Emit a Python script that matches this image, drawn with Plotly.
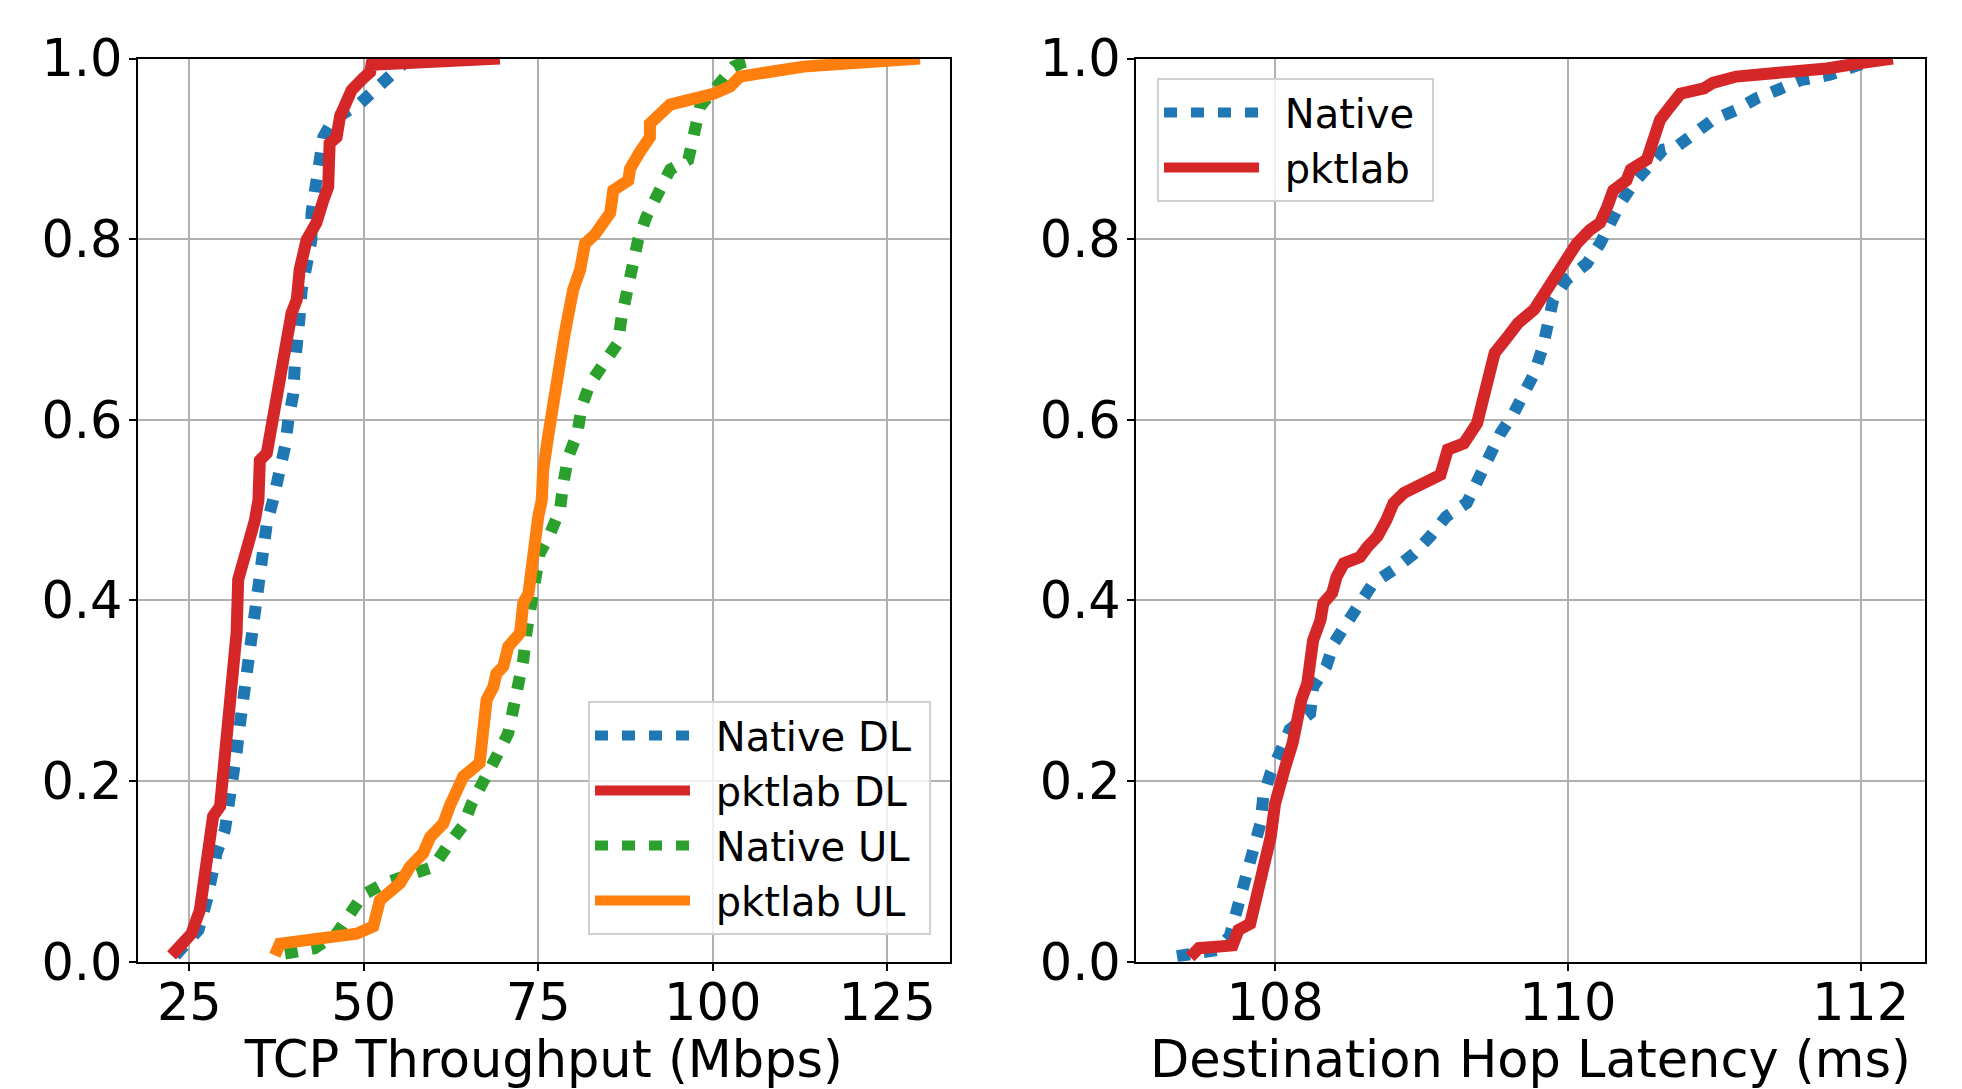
import plotly.graph_objects as go

# ---------------- data ----------------
# Left panel: TCP throughput CDFs (Mbps vs cumulative fraction)
native_dl_x = [23.0, 26.3, 27.5, 28.0, 28.9, 30.1, 30.8, 31.5, 31.8, 32.2, 32.7, 33.2, 33.7, 34.1,
               34.5, 34.9, 35.35, 36.1, 37.0, 37.25, 38.2, 38.7, 39.2, 39.9, 40.1, 40.6, 40.8, 41.1,
               41.8, 42.5, 42.5, 43.2, 43.7, 44.2, 45.6, 49.4, 52.1, 54.7, 56.5]
native_dl_y = [0.007, 0.035, 0.068, 0.094, 0.120, 0.146, 0.175, 0.205, 0.234, 0.260, 0.290, 0.319,
               0.349, 0.375, 0.400, 0.432, 0.459, 0.485, 0.511, 0.519, 0.544, 0.570, 0.600, 0.629,
               0.659, 0.688, 0.714, 0.744, 0.769, 0.799, 0.829, 0.858, 0.886, 0.913, 0.932, 0.950,
               0.969, 0.985, 1.0]

pktlab_dl_x = [22.45, 25.3, 26.5, 27.2, 27.5, 28.4, 29.4, 29.85, 30.1, 30.56, 31.05, 31.77, 32.0,
               32.7, 33.4, 34.4, 34.9, 35.1, 36.1, 37.0, 37.7, 38.4, 39.2, 39.65, 40.4, 40.8, 41.8,
               43.2, 44.2, 44.9, 45.1, 46.1, 46.6, 47.5, 48.25, 49.9, 50.9, 51.1, 69.5]
pktlab_dl_y = [0.007, 0.031, 0.057, 0.094, 0.131, 0.161, 0.172, 0.209, 0.242, 0.275, 0.293, 0.364,
               0.423, 0.441, 0.467, 0.489, 0.511, 0.555, 0.563, 0.603, 0.633, 0.666, 0.699, 0.718,
               0.733, 0.766, 0.799, 0.818, 0.843, 0.858, 0.906, 0.913, 0.936, 0.950, 0.965, 0.978,
               0.985, 0.993, 1.0]

native_ul_x = [38.7, 43.0, 46.1, 48.0, 49.9, 53.0, 56.6, 59.95, 61.9, 64.25, 65.45, 67.4, 69.0,
               70.7, 71.4, 72.4, 72.85, 73.3, 74.05, 74.8, 75.2, 76.7, 78.1, 78.6, 79.3, 80.6, 81.2,
               82.4, 84.5, 86.4, 86.95, 87.7, 88.6, 89.3, 90.5, 92.2, 93.9, 96.5, 97.5, 98.2, 100.6,
               103.0, 104.4, 106.3]
native_ul_y = [0.009, 0.015, 0.031, 0.054, 0.074, 0.087, 0.096, 0.105, 0.127, 0.151, 0.175, 0.201,
               0.227, 0.253, 0.279, 0.306, 0.334, 0.364, 0.393, 0.423, 0.452, 0.474, 0.500, 0.530,
               0.559, 0.585, 0.614, 0.640, 0.663, 0.685, 0.714, 0.744, 0.769, 0.799, 0.825, 0.851,
               0.877, 0.888, 0.917, 0.947, 0.969, 0.991, 0.996, 1.0]

pktlab_ul_x = [37.26, 37.97, 48.97, 51.35, 52.3, 53.3, 55.2, 56.6, 58.5, 59.5, 61.4, 62.3, 63.3,
               64.25, 66.6, 66.9, 67.6, 68.55, 69.0, 70.0, 70.7, 72.4, 72.85, 73.6, 74.05, 74.3,
               75.0, 75.5, 75.7, 76.4, 77.4, 78.1, 78.8, 80.0, 81.0, 81.7, 83.1, 85.3, 85.75, 87.9,
               88.15, 89.6, 91.0, 91.0, 92.45, 93.9, 100.1, 102.5, 103.9, 113.0, 129.7]
pktlab_ul_y = [0.007, 0.020, 0.031, 0.039, 0.068, 0.076, 0.087, 0.105, 0.120, 0.138, 0.153, 0.172,
               0.186, 0.205, 0.220, 0.253, 0.290, 0.304, 0.319, 0.327, 0.349, 0.364, 0.397, 0.408,
               0.437, 0.474, 0.493, 0.511, 0.544, 0.581, 0.633, 0.674, 0.696, 0.744, 0.766, 0.795,
               0.805, 0.829, 0.854, 0.865, 0.878, 0.897, 0.913, 0.928, 0.941, 0.949, 0.961, 0.969,
               0.980, 0.991, 1.0]

# Right panel: destination hop latency CDFs (ms vs cumulative fraction)
native_lat_x = [107.33, 107.60, 107.69, 107.72, 107.76, 107.81, 107.85, 107.90, 107.92, 107.97,
                108.04, 108.10, 108.24, 108.26, 108.35, 108.40, 108.49, 108.58, 108.67, 108.81,
                108.95, 109.06, 109.17, 109.31, 109.38, 109.45, 109.54, 109.63, 109.70, 109.77,
                109.83, 109.87, 109.90, 109.99, 110.13, 110.22, 110.29, 110.36, 110.45, 110.54,
                110.65, 110.74, 110.86, 110.99, 111.15, 111.29, 111.43, 111.59, 111.79, 111.95,
                112.04, 112.1]
native_lat_y = [0.006, 0.013, 0.028, 0.046, 0.072, 0.101, 0.127, 0.153, 0.183, 0.209, 0.234, 0.257,
                0.275, 0.304, 0.327, 0.352, 0.375, 0.397, 0.419, 0.434, 0.452, 0.471, 0.493, 0.508,
                0.533, 0.559, 0.585, 0.607, 0.629, 0.651, 0.681, 0.707, 0.733, 0.755, 0.773, 0.795,
                0.818, 0.840, 0.862, 0.880, 0.899, 0.902, 0.917, 0.932, 0.943, 0.956, 0.965, 0.976,
                0.982, 0.989, 0.996, 1.0]

pktlab_lat_x = [107.42, 107.48, 107.71, 107.75, 107.83, 107.88, 107.92, 107.97, 108.0, 108.02,
                108.07, 108.12, 108.15, 108.18, 108.22, 108.23, 108.26, 108.31, 108.33, 108.39,
                108.42, 108.47, 108.58, 108.63, 108.70, 108.76, 108.81, 108.88, 109.02, 109.13,
                109.18, 109.29, 109.38, 109.42, 109.46, 109.50, 109.57, 109.66, 109.77, 109.86,
                109.95, 109.99, 110.06, 110.15, 110.22, 110.27, 110.31, 110.40, 110.43, 110.54,
                110.58, 110.63, 110.70, 110.77, 110.93, 110.99, 111.15, 111.47, 111.77, 112.0,
                112.22]
pktlab_lat_y = [0.005, 0.015, 0.018, 0.035, 0.042, 0.072, 0.101, 0.138, 0.175, 0.190, 0.216, 0.242,
                0.268, 0.290, 0.308, 0.330, 0.356, 0.378, 0.397, 0.408, 0.426, 0.441, 0.448, 0.459,
                0.471, 0.489, 0.508, 0.519, 0.530, 0.539, 0.567, 0.574, 0.596, 0.626, 0.655, 0.674,
                0.688, 0.707, 0.722, 0.744, 0.769, 0.781, 0.795, 0.810, 0.818, 0.836, 0.854, 0.865,
                0.877, 0.888, 0.910, 0.932, 0.947, 0.961, 0.967, 0.973, 0.980, 0.984, 0.989, 0.995,
                1.0]

left_ticks = [25, 50, 75, 100, 125]
right_ticks = [108, 110, 112]
y_ticks = [0.0, 0.2, 0.4, 0.6, 0.8, 1.0]

# ---------------- styling ----------------
W, H = 1962, 1089
BLUE, RED, GREEN, ORANGE = "#1f77b4", "#d62728", "#2ca02c", "#ff7f0e"
LW = 12
DOT = "13px,14px"
FONT = "DejaVu Sans"
PRE = "\u00a0\u2009"   # gap between legend sample and label
POST = "\u00a0"        # right padding inside legend box

fig = go.Figure()

def add(x, y, name, color, dotted, xa, ya, legend):
    fig.add_trace(go.Scatter(
        x=x, y=y, mode="lines", name=PRE + name + POST, xaxis=xa, yaxis=ya, legend=legend,
        legendgroup=name + legend,
        line=dict(color=color, width=LW, dash=DOT if dotted else "solid"),
        hoverinfo="skip"))

add(native_dl_x, native_dl_y, "Native DL", BLUE, True, "x", "y", "legend")
add(pktlab_dl_x, pktlab_dl_y, "pktlab DL", RED, False, "x", "y", "legend")
add(native_ul_x, native_ul_y, "Native UL", GREEN, True, "x", "y", "legend")
add(pktlab_ul_x, pktlab_ul_y, "pktlab UL", ORANGE, False, "x", "y", "legend")
add(native_lat_x, native_lat_y, "Native", BLUE, True, "x2", "y2", "legend2")
add(pktlab_lat_x, pktlab_lat_y, "pktlab", RED, False, "x2", "y2", "legend2")

y0 = 1 - 961.7 / H
y1 = 1 - 58.5 / H

axis_common = dict(
    showline=True, linecolor="black", linewidth=2, mirror=True,
    ticks="outside", ticklen=7, tickwidth=2, tickcolor="black",
    showgrid=True, gridcolor="#b0b0b0", gridwidth=1.6, zeroline=False,
    tickfont=dict(family=FONT, size=51, color="black"),
    automargin=False,
)

legend_common = dict(
    xanchor="left", yanchor="top",
    bgcolor="rgba(255,255,255,0.8)", bordercolor="#d0d0d0", borderwidth=2,
    font=dict(family=FONT, size=40, color="black"), itemwidth=95, tracegroupgap=16,
    traceorder="normal",
)

fig.update_layout(
    width=W, height=H,
    margin=dict(l=0, r=0, t=0, b=0, autoexpand=False),
    paper_bgcolor="white", plot_bgcolor="white",
    font=dict(family=FONT, color="black"),
    xaxis=dict(domain=[137.7 / W, 950 / W], range=[17.6, 134.0], tickvals=left_ticks,
               ticklabelstandoff=-12,
               title=dict(text="TCP Throughput (Mbps)", font=dict(family=FONT, size=51), standoff=20),
               anchor="y", **axis_common),
    yaxis=dict(domain=[y0, y1], range=[0, 1], tickvals=y_ticks, tickformat=".1f",
               ticklabelstandoff=-4, anchor="x", **axis_common),
    xaxis2=dict(domain=[1136 / W, 1925 / W], range=[107.05, 112.44], tickvals=right_ticks,
                ticklabelstandoff=-12,
                title=dict(text="Destination Hop Latency (ms)", font=dict(family=FONT, size=51), standoff=20),
                anchor="y2", **axis_common),
    yaxis2=dict(domain=[y0, y1], range=[0, 1], tickvals=y_ticks, tickformat=".1f",
                ticklabelstandoff=-4, anchor="x2", **axis_common),
    legend=dict(x=588 / W, y=1 - 701 / H, **legend_common),
    legend2=dict(x=1157 / W, y=1 - 78 / H, **legend_common),
    showlegend=True,
)

fig.write_html("out.html", config={"displayModeBar": False},
               post_script="document.body.style.margin='0';document.body.style.padding='0';")
